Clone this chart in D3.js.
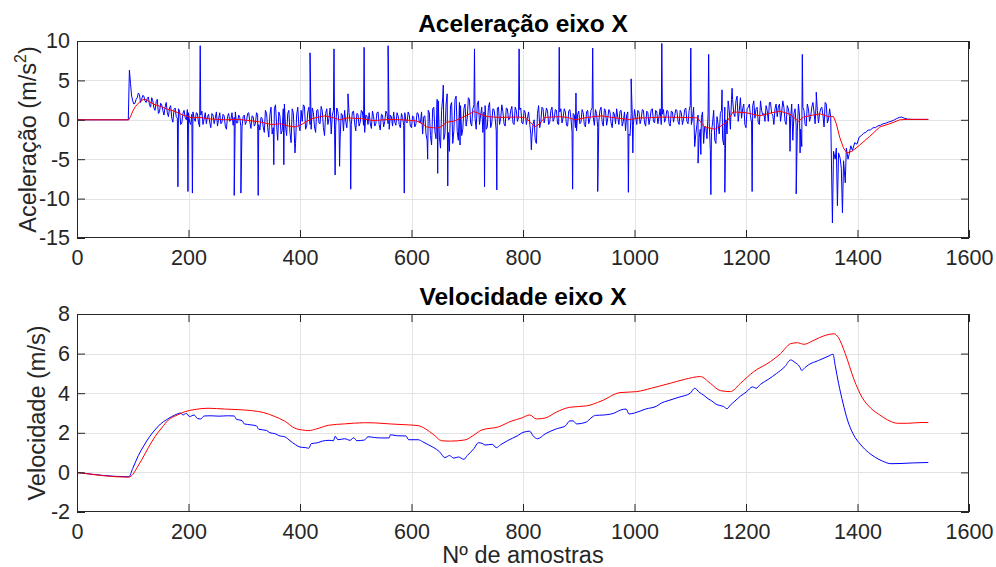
<!DOCTYPE html>
<html>
<head>
<meta charset="utf-8">
<script src="https://cdn.jsdelivr.net/npm/d3@7"></script>
<style>
  body { margin: 0; background: #fff; }
  svg { display: block; }
  text { font-family: "Liberation Sans", Arial, Helvetica, sans-serif; }
</style>
</head>
<body>
<svg id="chart" width="996" height="567"></svg>
<script>
// ---- axis ticks ----
const sampleTicks = [0, 200, 400, 600, 800, 1000, 1200, 1400, 1600];
const accTicks = [-15, -10, -5, 0, 5, 10];
const velTicks = [-2, 0, 2, 4, 6, 8];

// ---- raw acceleration (blue): readings every 4 samples from sample 96 ----
const accRawStart = 96;
const accRawStep = 4;
const accRawNoise = [
  4.6, 2.4, 2.1, 2.8, 3.2, 2.6, 3.0, 2.2, 2.9, 1.6,
  2.4, 1.2, 2.6, 1.0, 1.9, 0.6, 2.2, 0.4, 1.8, -0.3,
  1.5, 0.2, 1.1, -0.4, 1.2, 0.0, 0.9, -0.6, 1.0, -0.2,
  0.8, -0.9, 1.1, 0.1, -0.5, 0.7, -1.0, 0.6, 0.2, -0.8,
  0.9, -0.3, 0.5, -1.2, 0.8, 0.0, -0.7, 1.0, -0.4, 0.3,
  -0.9, 0.6, -0.2, 0.9, -1.1, 0.4, -0.5, 0.7, -1.3, 0.2,
  -1.6, 0.8, -2.2, 1.6, -1.0, 1.9, -2.6, 0.5, -1.4, 2.0,
  -2.0, 1.2, -2.9, 0.9, -3.0, 1.6, -1.4, -0.2, 1.7, -0.8,
  1.6, -1.2, 0.9, -1.6, 1.3, -0.5, 1.1, -2.0, 1.4, 0.2,
  -1.8, 1.2, -0.9, 1.0, -2.3, 0.6, 1.2, -1.0, 0.9, -0.6,
  1.1, -1.4, 0.7, -0.3, 1.0, -1.6, 0.5, 0.9, -1.1, 0.4,
  -0.5, 1.0, -1.3, 0.6, -0.2, 0.8, -1.2, 0.4, 1.0, -0.7,
  0.5, -1.0, 0.3, 0.9, -0.4, 0.6, -1.0, 0.3, -0.5, 0.8,
  -0.4, -1.8, 0.5, -2.6, 0.9, -3.2, 1.6, -2.4, 2.4, -3.6,
  2.8, -1.8, 3.3, -4.0, 2.2, -1.4, 3.0, -2.6, 1.8, -1.2,
  2.0, 0.2, 2.6, -0.8, 1.9, -1.2, 2.4, 0.6, -1.6, 1.8,
  -0.9, 2.2, -0.4, 1.3, -1.4, 1.6, 0.2, 1.0, -0.8, 1.4,
  0.1, 1.7, -0.6, 1.2, 0.3, 1.5, -0.5, 0.9, 0.2, -0.4,
  -2.2, 0.0, -3.0, 1.8, -0.2, 1.4, 0.4, 1.1, -0.3, 1.6,
  0.2, 1.2, -0.6, 1.4, 0.3, 1.0, -0.8, 1.3, -1.6, 0.6,
  -1.4, 1.1, -0.3, 0.9, -0.9, 1.2, 0.1, 1.5, -0.7, 0.8,
  -0.2, 1.6, -0.8, 1.2, 0.2, 1.0, -1.0, 0.7, 1.4, -0.6,
  1.2, -0.2, -1.4, 1.0, -2.0, 0.5, 1.3, -0.6, 1.0, 0.1,
  1.2, -0.8, 0.9, 0.2, 1.4, -0.4, 1.0, 0.4, -0.6, 1.3,
  0.2, 1.1, -0.8, 1.0, 0.5, 1.2, -0.6, 0.9, 0.1, 1.5,
  -0.5, 1.8, 0.2, -3.4, -0.6, -2.2, 0.3, -3.0, -1.0, 0.8,
  -3.8, -0.4, -2.6, 0.4, -1.8, 1.2, -3.2, 0.0, 2.4, -1.2,
  2.6, 0.4, 3.0, 1.2, 0.2, 2.0, -1.0, 1.6, 0.5, 1.8,
  0.2, 1.6, -0.6, 1.2, 0.8, 1.8, -0.2, 2.2, 0.6, 1.4,
  0.4, 2.0, 1.0, 1.6, -0.6, 1.4, 0.2, -2.6, 1.4, -1.5,
  0.6, -3.4, 1.2, -0.8, 1.4, 0.4, 2.2, -0.5, 1.2, 0.8,
  1.6, -0.9, 2.0, 0.1, 0.3
];

// ---- raw acceleration (blue): in-between readings, every 4 samples from sample 98 ----
const accRawMidStart = 98;
const accRawMid = [
  3.0, 2.0, 2.6, 3.4, 2.2, 3.1, 2.4, 2.7, 1.9, 2.8,
  1.5, 2.3, 0.8, 2.1, 1.2, 1.6, 0.9, 1.5, 0.2, 1.3,
  0.4, 1.4, -0.6, 0.8, 0.3, 1.3, -0.3, 0.7, 0.2, 0.9,
  -0.4, 0.6, -0.6, 0.9, 0.4, -0.3, 0.8, -0.5, 1.0, 0.1,
  -0.5, 0.7, -0.8, 0.4, -0.2, 0.9, 0.3, -0.4, 0.6, -0.9,
  0.4, -0.6, 0.8, -0.3, 0.5, -0.8, 0.9, -0.6, 0.3, -0.9,
  1.2, -1.0, 0.6, -1.8, 1.4, -0.6, 1.0, -1.8, 1.4, -0.8,
  0.8, -1.6, 1.4, -2.2, 0.6, -0.8, 1.2, 1.9, -1.2, 1.0,
  -0.6, 1.5, -0.9, 1.2, -0.4, 1.7, -1.0, 0.8, -0.6, 1.5,
  0.6, -1.2, 1.5, -0.4, 0.8, -1.4, -0.2, 1.4, -0.5, 1.0,
  -0.4, 0.8, -0.8, 1.2, -0.7, 0.6, -0.6, -0.4, 1.1, -0.8,
  0.9, -0.6, 0.7, -0.9, 1.1, -0.5, 0.6, -0.8, -0.3, 0.9,
  -0.6, 0.8, -0.7, -0.2, 1.0, -0.8, 0.5, -0.9, 0.9, -0.3,
  1.0, 0.4, -1.8, 1.2, -2.0, 1.4, -1.5, 2.6, -2.2, 1.2,
  -2.5, 2.0, -1.6, 1.8, -3.0, 2.6, -1.5, 2.2, -2.0, 1.4,
  -0.8, 2.8, -0.4, 1.4, 0.2, 2.0, -0.6, 1.6, 1.0, -1.2,
  1.6, -1.0, 1.4, 0.2, 1.5, -0.6, 1.9, -0.5, 1.5, 0.0,
  1.2, -0.4, 1.6, -0.2, 1.3, -0.4, 1.2, -0.6, 1.0, -1.8,
  -0.6, -2.6, 0.8, -1.0, 1.6, -0.4, 1.5, -0.6, 1.2, -0.2,
  1.3, -0.5, 1.0, -0.4, 1.4, -0.7, 1.1, 0.2, 0.8, -1.0,
  0.7, -0.5, 1.3, -0.6, 1.0, -0.5, 1.2, 0.3, 1.3, -1.0,
  1.2, -0.3, 1.4, -0.7, 1.3, -0.4, 1.0, -0.5, 0.3, 1.1,
  -0.8, 1.0, 0.6, -1.8, 0.8, -0.7, 0.4, 1.2, -0.5, 1.3,
  -0.4, 1.1, -0.6, 1.3, -0.2, 1.2, -0.5, 1.4, 0.7, -0.3,
  1.2, -0.5, 1.1, -0.3, 1.3, -0.2, 1.2, -0.6, 1.3, -0.2,
  1.2, -0.6, 1.6, -1.8, 0.6, -1.2, 1.0, -0.8, -2.4, -0.4,
  -1.6, 1.2, -3.0, -0.6, 0.8, -2.4, 1.6, -1.8, 1.2, 2.6,
  0.8, 2.4, -0.2, 2.8, 1.4, -0.6, 1.4, 2.0, -0.4, 2.4,
  1.4, -0.4, 2.4, 0.6, -0.2, 1.2, 2.2, 0.8, -0.6, 2.0,
  1.6, -0.2, 2.4, -0.2, 1.8, 0.4, 2.0, 0.8, -0.8, 2.0,
  -1.2, 1.6, -0.6, 2.0, -0.2, 1.6, 1.0, 2.4, -0.4, 1.4,
  0.6, 2.2, -0.4, 1.4
];

// ---- raw acceleration (blue): individually read points (lead-in, peaks, final dip, tail) ----
const accPointSample = [
  0, 92, 94,
  181, 199, 207, 221, 282, 294, 325, 353, 371, 391, 418, 461, 463, 471, 486, 491,
  515, 558, 587, 629, 647, 657, 665, 687, 713, 731, 753, 793, 815, 865, 889, 895,
  925, 934, 989, 994, 997, 1049, 1101, 1114, 1119, 1133, 1137, 1157, 1162, 1175,
  1211, 1279, 1290, 1297, 1301, 1326,
  1355, 1357, 1360, 1362, 1364, 1366, 1369, 1371, 1373, 1375, 1378, 1380, 1383, 1385,
  1388, 1391, 1395, 1399, 1403, 1407, 1411, 1415, 1419, 1423, 1428, 1432, 1437, 1441,
  1446, 1450, 1455, 1460, 1465, 1470, 1475, 1479, 1484, 1490, 1500, 1527
];
const accPointValue = [
  0.0, 0.0, 6.3,
  -8.5, -9.1, -9.3, 9.4, -9.6, -9.3, -9.6, -5.7, -5.7, -4.2, 8.5, 9.0, -7.0, -5.9, 3.3, -8.8,
  9.2, 9.4, -9.3, -5.0, -6.8, 4.4, -8.4, -3.2, 9.0, -8.5, -8.9, 9.0, -3.8, 9.2, -8.8, 3.4,
  9.1, -9.1, -9.2, 5.2, -4.2, 9.7, 9.1, -5.5, -4.4, 8.3, -9.5, 3.8, -9.2, 4.0,
  -9.1, -4.0, -9.4, -4.2, 8.3, 3.5,
  -13.1, -4.0, -5.0, -3.6, -10.9, -4.2, -4.9, -6.2, -11.8, -5.2, -8.0, -3.6, -5.0, -4.4,
  -3.3, -3.9, -2.9, -3.1, -2.2, -2.0, -1.7, -1.6, -1.3, -1.3, -1.0, -1.0, -0.75, -0.7,
  -0.5, -0.45, -0.3, -0.2, -0.05, 0.15, 0.3, 0.35, 0.2, 0.08, 0.05, 0.05
];

// ---- filtered acceleration (red) ----
const accFiltSample = [
  0, 93, 96, 100, 105, 110, 116, 122, 130, 140, 150, 160, 176, 190, 206, 220, 240, 265,
  290, 313, 330, 349, 365, 380, 391, 400, 410, 421, 444, 455, 472, 485, 495, 510, 531,
  560, 585, 609, 620, 627, 645, 654, 663, 675, 688, 700, 712, 724, 736, 760, 786, 803,
  812, 821, 830, 839, 864, 880, 893, 915, 941, 965, 992, 1010, 1025, 1050, 1085, 1113,
  1120, 1126, 1144, 1155, 1165, 1177, 1200, 1225, 1240, 1261, 1279, 1294, 1303, 1320,
  1333, 1348, 1357, 1362, 1368, 1375, 1381, 1390, 1404, 1422, 1440, 1458, 1476, 1490, 1527
];
const accFiltValue = [
  0.0, 0.0, 0.4, 1.1, 1.7, 2.1, 2.5, 2.6, 2.3, 1.9, 1.7, 1.4, 1.06, 0.6, 0.25, 0.3, 0.1, 0.0,
  0.05, -0.13, -0.3, -0.6, -0.5, -0.8, -0.9, -0.7, -0.3, 0.15, 0.5, 0.35, 0.0, 0.25, 0.2, 0.15, -0.1,
  0.05, 0.0, -0.15, -0.5, -0.9, -1.06, -0.85, -0.3, -0.2, 0.2, 0.6, 1.05, 0.7, 0.4, 0.3, 0.35, 0.3,
  -0.2, -0.9, -0.5, 0.3, 0.4, 0.3, 0.0, 0.3, 0.5, 0.25, 0.04, 0.25, 0.25, 0.35, 0.3, 0.25,
  -0.4, -0.9, -1.2, -0.8, -0.3, 1.0, 0.9, 0.5, 0.8, 1.1, 0.7, -0.2, 0.34, 0.6,
  0.76, 0.4, 0.4, -0.5, -2.2, -3.6, -4.2, -4.0, -3.2, -2.1, -0.9, -0.5, 0.0, 0.05, 0.05
];

// ---- raw velocity (blue) ----
const velRawSample = [
  0, 93, 100, 110, 120, 130, 140, 150, 160, 170, 180, 186, 190, 196, 202, 210, 216, 222,
  228, 240, 255, 270, 282, 286, 296, 300, 312, 322, 326, 340, 346, 356, 362, 374, 382,
  392, 400, 410, 416, 420, 432, 440, 452, 460, 463, 468, 480, 490, 496, 502, 516, 522,
  534, 544, 560, 562, 575, 590, 595, 612, 620, 630, 640, 650, 660, 668, 676, 684, 694,
  700, 712, 720, 728, 732, 745, 752, 760, 772, 790, 800, 812, 818, 826, 840, 860, 876,
  884, 890, 896, 914, 922, 930, 945, 964, 975, 985, 990, 1000, 1020, 1040, 1048, 1060,
  1080, 1100, 1108, 1116, 1124, 1132, 1138, 1146, 1160, 1166, 1172, 1180, 1190, 1200,
  1212, 1218, 1226, 1240, 1255, 1270, 1280, 1288, 1296, 1300, 1306, 1312, 1330, 1350,
  1356, 1360, 1366, 1374, 1382, 1392, 1406, 1420, 1432, 1445, 1460, 1478, 1500, 1527
];
const velRawValue = [
  0.0, -0.22, 0.2, 0.85, 1.35, 1.8, 2.15, 2.45, 2.65, 2.82, 2.95, 3.0, 2.9, 2.98, 2.82, 2.9, 2.72, 2.7,
  2.85, 2.86, 2.84, 2.86, 2.85, 2.68, 2.62, 2.45, 2.4, 2.35, 2.18, 2.12, 2.0, 1.95, 1.86, 1.78, 1.6,
  1.4, 1.28, 1.25, 1.22, 1.45, 1.5, 1.58, 1.62, 1.6, 1.82, 1.65, 1.7, 1.62, 1.75, 1.6, 1.64, 1.8,
  1.76, 1.74, 1.74, 1.9, 1.85, 1.84, 1.65, 1.65, 1.55, 1.4, 1.25, 1.05, 0.75, 0.85, 0.72, 0.78, 0.66,
  0.85, 1.2, 1.5, 1.45, 1.38, 1.42, 1.25, 1.4, 1.6, 1.85, 2.02, 2.08, 1.85, 1.7, 1.95, 2.2, 2.35,
  2.6, 2.6, 2.45, 2.55, 2.75, 2.88, 2.9, 3.0, 3.15, 3.2, 2.95, 3.0, 3.2, 3.35, 3.5, 3.62,
  3.8, 4.0, 4.25, 4.05, 3.9, 3.72, 3.62, 3.45, 3.32, 3.22, 3.4, 3.6, 3.85, 4.05,
  4.32, 4.25, 4.45, 4.7, 5.0, 5.35, 5.68, 5.55, 5.35, 5.15, 5.3, 5.43, 5.65, 5.9,
  5.97, 5.4, 4.5, 3.5, 2.65, 1.95, 1.39, 1.0, 0.76, 0.57, 0.44, 0.45, 0.48, 0.5
];

// ---- filtered velocity (red) ----
const velFiltSample = [
  0, 93, 100, 108, 116, 128, 140, 152, 164, 180, 194, 210, 235, 265, 290, 313, 335, 355,
  372, 391, 405, 415, 430, 451, 480, 516, 534, 560, 594, 612, 625, 640, 654, 670, 696,
  710, 726, 756, 780, 797, 812, 824, 840, 860, 884, 914, 940, 974, 1004, 1030, 1064,
  1090, 1118, 1136, 1154, 1172, 1190, 1214, 1244, 1262, 1280, 1292, 1304, 1320, 1340,
  1358, 1366, 1378, 1394, 1408, 1424, 1440, 1454, 1472, 1490, 1514, 1527
];
const velFiltValue = [
  0.0, -0.24, -0.1, 0.25, 0.63, 1.25, 1.81, 2.25, 2.65, 2.9, 3.07, 3.17, 3.24, 3.2, 3.17, 3.12, 3.02, 2.82,
  2.6, 2.23, 2.14, 2.11, 2.2, 2.38, 2.45, 2.51, 2.5, 2.45, 2.4, 2.36, 2.2, 1.9, 1.6, 1.58, 1.64,
  1.85, 2.14, 2.3, 2.6, 2.74, 2.9, 2.7, 2.75, 3.05, 3.29, 3.36, 3.6, 4.03, 4.08, 4.25, 4.5,
  4.7, 4.84, 4.5, 4.13, 4.08, 4.5, 5.09, 5.6, 6.0, 6.5, 6.55, 6.47, 6.65, 6.9,
  7.0, 6.8, 6.0, 4.67, 3.8, 3.24, 2.9, 2.65, 2.48, 2.48, 2.52, 2.52
];

// ---- assemble series ----
const zip = (xs, ys) => xs.map((x, i) => [x, ys[i]]);

const accRaw = accRawNoise.map((v, i) => [accRawStart + i * accRawStep, v])
  .concat(accRawMid.map((v, i) => [accRawMidStart + i * accRawStep, v]))
  .concat(zip(accPointSample, accPointValue))
  .sort((a, b) => a[0] - b[0]);
const accFilt = zip(accFiltSample, accFiltValue);
const velRaw = zip(velRawSample, velRawValue);
const velFilt = zip(velFiltSample, velFiltValue);

// ---- drawing ----
const svg = d3.select("#chart");
const axisColor = "#262626";
const gridColor = "#e3e3e3";
const left = 77, right = 969;

function panel(opts) {
  const x = d3.scaleLinear().domain([0, 1600]).range([left, right]);
  const y = d3.scaleLinear().domain(opts.yDomain).range([opts.bottom, opts.top]);
  const g = svg.append("g");
  const clipId = "clip-" + opts.id;

  g.append("clipPath").attr("id", clipId)
    .append("rect")
    .attr("x", left).attr("y", opts.top)
    .attr("width", right - left).attr("height", opts.bottom - opts.top);

  // grid
  const grid = g.append("g").attr("stroke", gridColor).attr("stroke-width", 1);
  grid.selectAll("line.gx").data(sampleTicks.slice(1, -1)).join("line")
    .attr("class", "gx")
    .attr("x1", d => Math.round(x(d)) + 0.5).attr("x2", d => Math.round(x(d)) + 0.5)
    .attr("y1", opts.top).attr("y2", opts.bottom);
  grid.selectAll("line.gy").data(opts.yTicks.slice(1, -1)).join("line")
    .attr("class", "gy")
    .attr("y1", d => Math.round(y(d)) + 0.5).attr("y2", d => Math.round(y(d)) + 0.5)
    .attr("x1", left).attr("x2", right);

  // series: raw in blue, filtered in red on top
  const line = d3.line().x(d => x(d[0])).y(d => y(d[1]));
  const smooth = d3.line().x(d => x(d[0])).y(d => y(d[1])).curve(d3.curveMonotoneX);
  const plot = g.append("g").attr("clip-path", `url(#${clipId})`);
  plot.append("path").datum(opts.blue)
    .attr("fill", "none").attr("stroke", "#0000ff").attr("stroke-width", 1)
    .attr("stroke-linejoin", "round").attr("d", opts.smoothRed ? smooth : line);
  plot.append("path").datum(opts.red)
    .attr("fill", "none").attr("stroke", "#ff0000").attr("stroke-width", 1)
    .attr("stroke-linejoin", "round").attr("d", opts.smoothRed ? smooth : line);

  // axes (ticks pointing inward on all four sides)
  const fmt = d => String(d);
  const tk = 8;
  const styleAxis = sel => {
    sel.select(".domain").remove();
    sel.selectAll(".tick line").attr("stroke", axisColor);
    sel.selectAll(".tick text").attr("fill", axisColor)
      .style("font-size", "21.5px");
  };
  g.append("g").attr("transform", `translate(0,${opts.bottom})`)
    .call(d3.axisBottom(x).tickValues(sampleTicks).tickFormat(fmt).tickSize(-tk).tickPadding(12))
    .call(styleAxis);
  g.append("g").attr("transform", `translate(0,${opts.top})`)
    .call(d3.axisTop(x).tickValues(sampleTicks).tickFormat("").tickSize(-tk))
    .call(styleAxis);
  g.append("g").attr("transform", `translate(${left},0)`)
    .call(d3.axisLeft(y).tickValues(opts.yTicks).tickFormat(fmt).tickSize(-tk).tickPadding(7))
    .call(styleAxis);
  g.append("g").attr("transform", `translate(${right},0)`)
    .call(d3.axisRight(y).tickValues(opts.yTicks).tickFormat("").tickSize(-tk))
    .call(styleAxis);

  // box
  g.append("rect")
    .attr("x", left + 0.5).attr("y", opts.top + 0.5)
    .attr("width", right - left - 1).attr("height", opts.bottom - opts.top - 1)
    .attr("fill", "none").attr("stroke", axisColor).attr("stroke-width", 1);

  // title
  g.append("text")
    .attr("x", (left + right) / 2).attr("y", opts.top - 9)
    .attr("text-anchor", "middle")
    .attr("font-weight", "bold").attr("font-size", "24.5px").attr("fill", "#000")
    .text(opts.title);

  // y label
  const yl = g.append("text")
    .attr("transform", `translate(${opts.ylabelX},${(opts.top + opts.bottom) / 2}) rotate(-90)`)
    .attr("text-anchor", "middle").attr("font-size", "23.5px").attr("fill", axisColor);
  yl.append("tspan").text(opts.ylabel[0]);
  if (opts.ylabel.length > 1) {
    yl.append("tspan").attr("dy", -10).attr("font-size", "16px").text(opts.ylabel[1]);
    yl.append("tspan").attr("dy", 10).text(opts.ylabel[2]);
  }
  return { x, y };
}

panel({
  id: "acc", top: 41, bottom: 238,
  yDomain: [-15, 10], yTicks: accTicks,
  blue: accRaw, red: accFilt, smoothRed: false,
  title: "Aceleração eixo X",
  ylabel: ["Aceleração (m/s", "2", ")"], ylabelX: 36
});

panel({
  id: "vel", top: 314, bottom: 512,
  yDomain: [-2, 8], yTicks: velTicks,
  blue: velRaw, red: velFilt, smoothRed: true,
  title: "Velocidade eixo X",
  ylabel: ["Velocidade (m/s)"], ylabelX: 45
});

svg.append("text")
  .attr("x", (left + right) / 2).attr("y", 563)
  .attr("text-anchor", "middle").attr("font-size", "23.5px").attr("fill", axisColor)
  .text("Nº de amostras");
</script>
</body>
</html>
